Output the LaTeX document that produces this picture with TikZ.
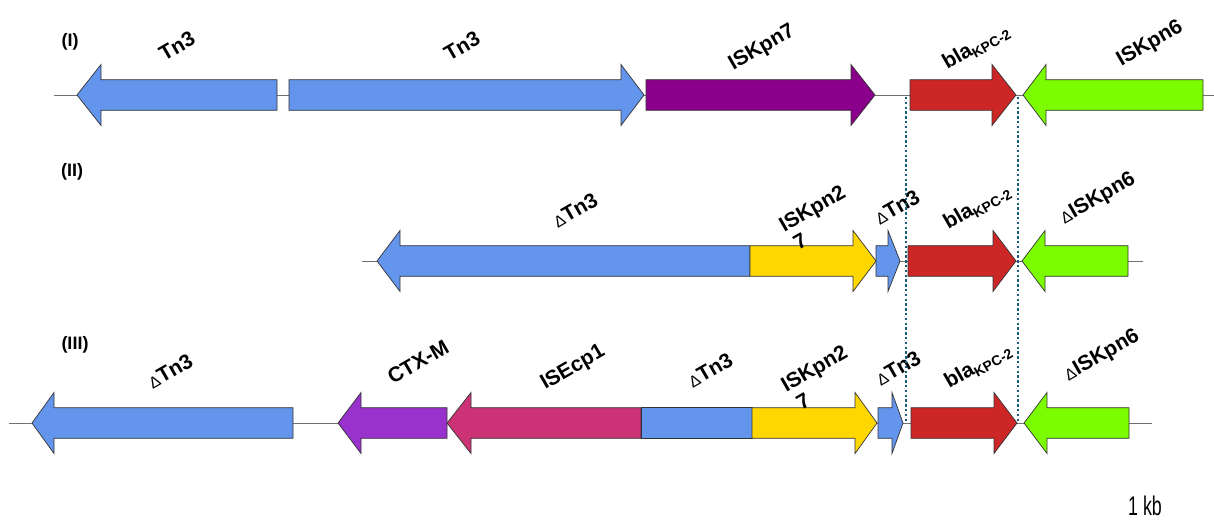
\documentclass[tikz,border=0pt]{standalone}
\usepackage{fontspec}
\setmainfont{Liberation Sans}
\usepackage{graphicx}
\definecolor{gblue}{HTML}{6495ED}
\definecolor{gpurple}{HTML}{8B008B}
\definecolor{gred}{HTML}{CD2626}
\definecolor{ggreen}{HTML}{7CFC00}
\definecolor{gyellow}{HTML}{FFD700}
\definecolor{gviolet}{HTML}{9932CC}
\definecolor{gpink}{HTML}{CC3377}
\definecolor{dotcol}{HTML}{1B5C78}
\definecolor{linecol}{HTML}{707070}
\definecolor{edgecol}{HTML}{333333}
\tikzset{
  genebox/.style={draw=edgecol, line width=0.7pt, line join=miter},
  backbone/.style={draw=linecol, line width=1pt},
  dotline/.style={draw=dotcol, line width=2.6pt, dash pattern=on 2.4pt off 2.4pt},
  lbl/.style={font=\bfseries\fontsize{21}{21}\selectfont, inner sep=0pt, rotate=30},
  rowlbl/.style={font=\bfseries\fontsize{18}{18}\selectfont, inner sep=0pt},
}
\newcommand\geneR[5]{\filldraw[genebox,fill=#5] (#1,#4-15.3) -- (#2,#4-15.3) -- (#2,#4-30.5) -- (#3,#4) -- (#2,#4+30.5) -- (#2,#4+15.3) -- (#1,#4+15.3) -- cycle;}
\newcommand\geneL[5]{\filldraw[genebox,fill=#5] (#1,#4) -- (#2,#4-30.5) -- (#2,#4-15.3) -- (#3,#4-15.3) -- (#3,#4+15.3) -- (#2,#4+15.3) -- (#2,#4+30.5) -- cycle;}
\newcommand\dlt{{\mdseries\fontsize{16}{16}\selectfont Δ}}
\newcommand\blakpc{bla\raisebox{-4pt}{\fontsize{14}{14}\selectfont KPC-2}}
\begin{document}
\begin{tikzpicture}[x=1pt,y=-1pt]
\useasboundingbox (0,0) rectangle (1214,519);
% backbones
\draw[backbone] (54,95) -- (1214,95);
\draw[backbone] (362,261) -- (1143,261);
\draw[backbone] (9,423) -- (1152,423);
% row I
\geneL{77}{101}{277}{95}{gblue}
\geneR{289}{621}{644}{95}{gblue}
\geneR{646}{851}{875}{95}{gpurple}
\geneR{910}{992}{1016}{95}{gred}
\geneL{1023}{1046}{1203}{95}{ggreen}
% row II
\geneL{377}{400}{750}{261}{gblue}
\geneR{750}{853}{876}{261}{gyellow}
\geneR{876}{888}{900}{261}{gblue}
\geneR{908}{993}{1016}{261}{gred}
\geneL{1022}{1045}{1128}{261}{ggreen}
% row III
\geneL{32}{54}{293}{423}{gblue}
\geneL{338}{361}{447}{423}{gviolet}
\geneL{447}{471}{641}{423}{gpink}
\filldraw[genebox,fill=gblue] (641,407.7) rectangle (752,438.3);
\geneR{752}{855}{877}{423}{gyellow}
\geneR{878}{892}{903}{423}{gblue}
\geneR{911}{994}{1017}{423}{gred}
\geneL{1024}{1047}{1129}{423}{ggreen}
% labels row I
\node[rowlbl] (r1) at (70,42) {(I)};
\node[lbl] (a1) at (177,46) {Tn3};
\node[lbl] (a2) at (462,46) {Tn3};
\node[lbl] (a3) at (762,48) {ISKpn7};
\node[lbl] (a4) at (976,47) {\blakpc};
\node[lbl] (a5) at (1150,44) {ISKpn6};
% labels row II
\node[rowlbl] (r2) at (72,172) {(II)};
\node[lbl] (b1) at (575,210) {\dlt Tn3};
\node[lbl] (b2) at (813,210) {ISKpn2};
\node[lbl] (b2b) at (800,241) {7};
\node[lbl] (b3) at (897,207) {\dlt Tn3};
\node[lbl] (b4) at (977,207) {\blakpc};
\node[lbl] (b5) at (1098,199) {\dlt ISKpn6};
% labels row III
\node[rowlbl] (r3) at (75,345) {(III)};
\node[lbl] (c1) at (170,371) {\dlt Tn3};
\node[lbl] (c2) at (418,362) {CTX-M};
\node[lbl] (c3) at (573,368) {ISEcp1};
\node[lbl] (c4) at (710,370) {\dlt Tn3};
\node[lbl] (c5) at (815,370) {ISKpn2};
\node[lbl] (c5b) at (803,401) {7};
\node[lbl] (c6) at (898,368) {\dlt Tn3};
\node[lbl] (c7) at (978,366) {\blakpc};
\node[lbl] (c8) at (1102,356) {\dlt ISKpn6};
% dotted guides
\coordinate (d1a) at (906,97);
\coordinate (d1b) at (906,423);
\coordinate (d2a) at (1018,97);
\coordinate (d2b) at (1018,423);
\draw[dotline] (d1a) -- (d1b);
\draw[dotline] (d2a) -- (d2b);
% scale
\node[inner sep=0pt, font=\fontsize{27}{27}\selectfont] (kb) at (1145,506) {\scalebox{0.66}[1]{1 kb}};
\end{tikzpicture}
\end{document}
